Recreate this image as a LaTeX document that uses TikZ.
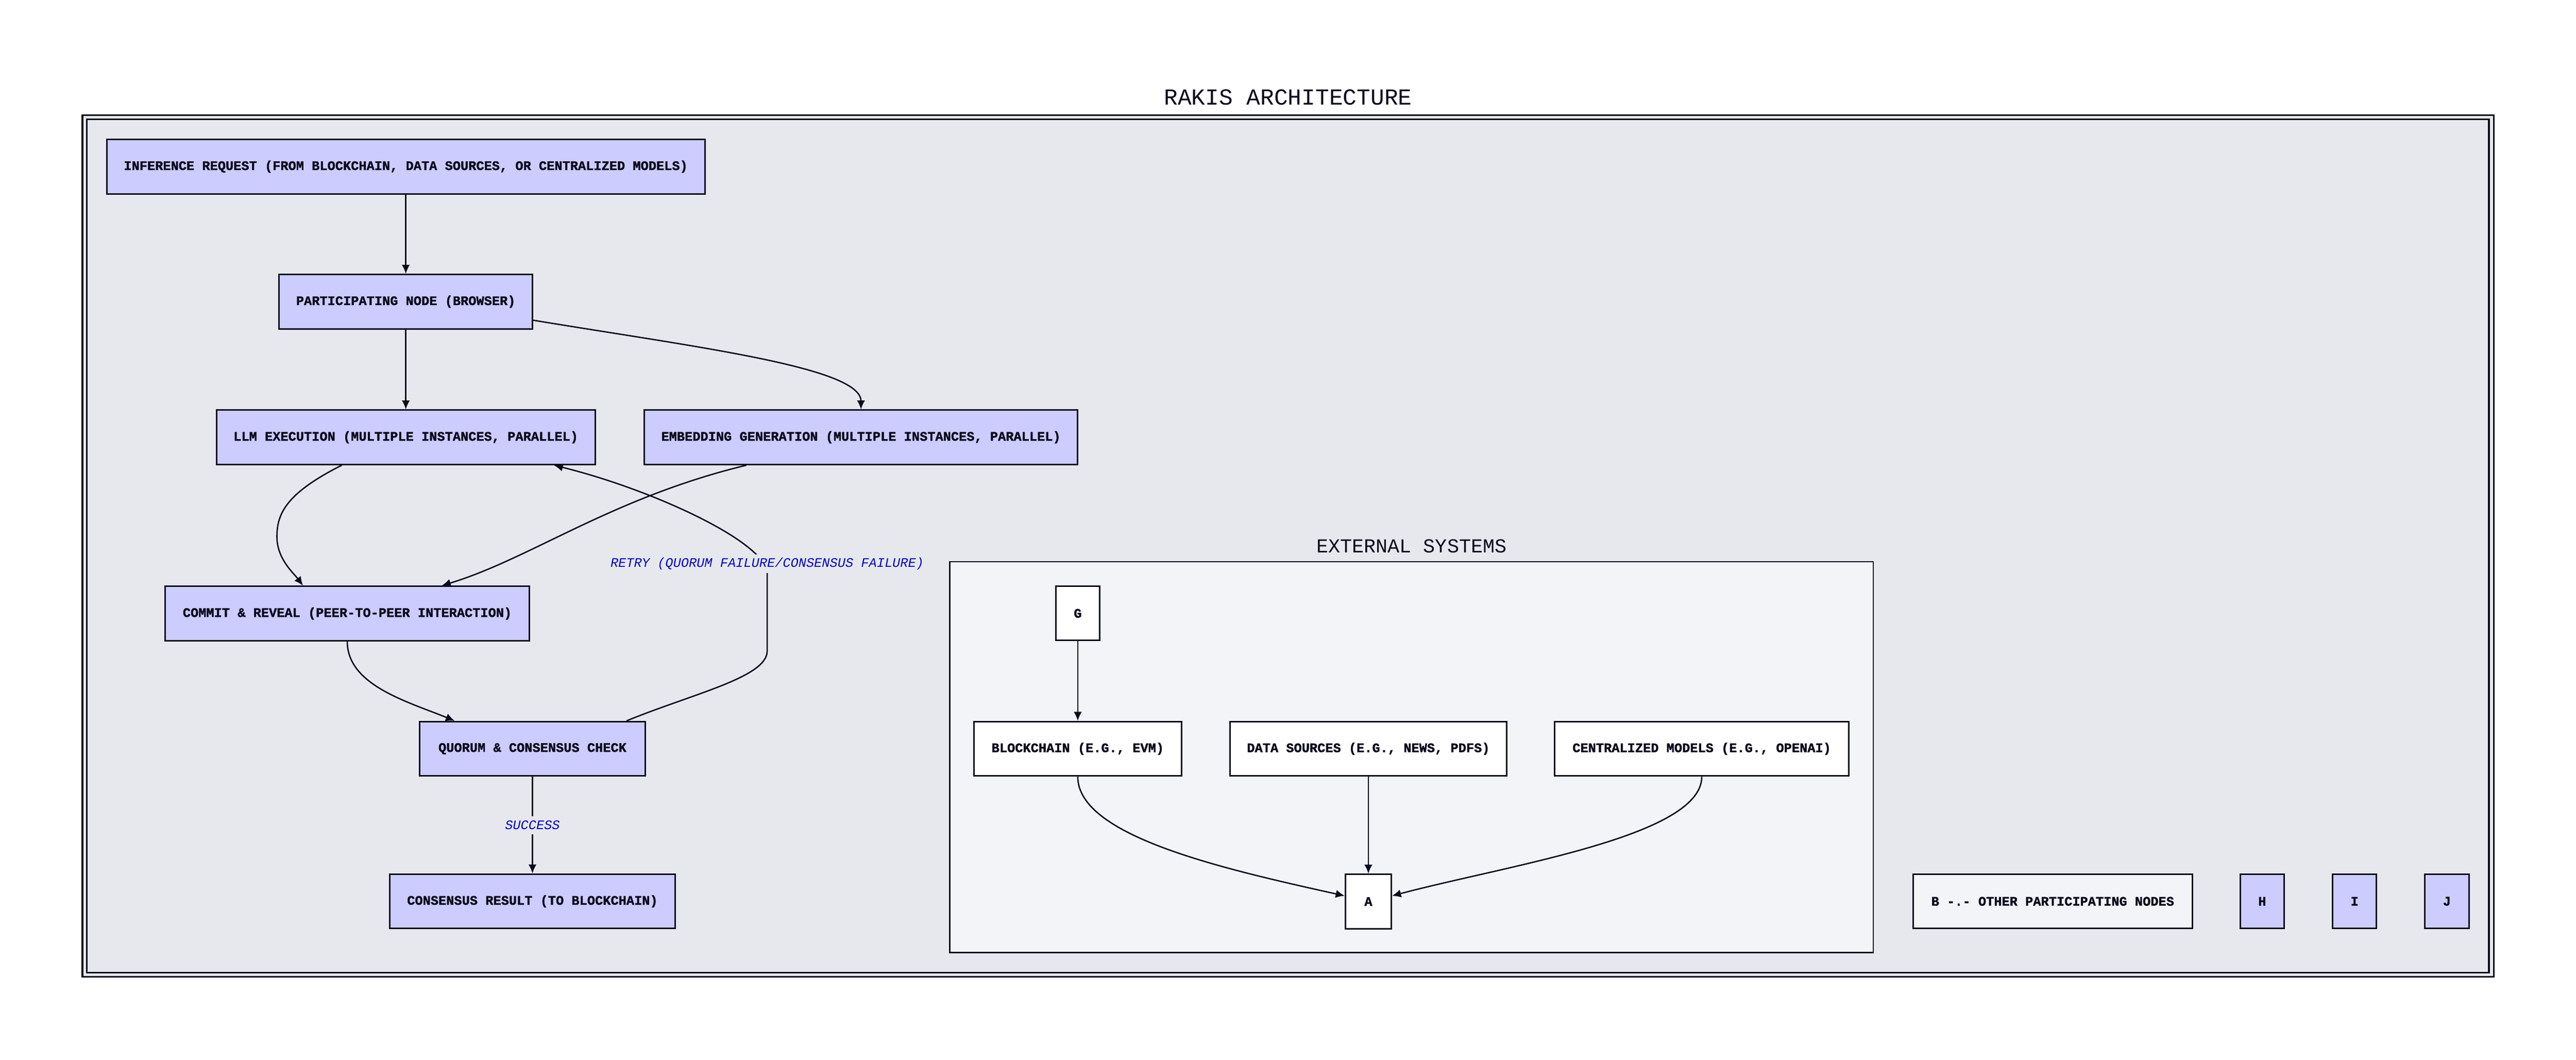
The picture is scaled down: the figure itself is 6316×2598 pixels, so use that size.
\documentclass[tikz,border=0pt]{standalone}
\usepackage{fontspec}
\setmonofont[BoldFeatures={FakeBold=1.5}]{Liberation Mono}
\usetikzlibrary{arrows.meta}
\definecolor{nodefill}{HTML}{CCCCFF}
\definecolor{ink}{HTML}{0B0B1C}
\definecolor{clusterbg}{HTML}{E7E8EE}
\definecolor{extbg}{HTML}{F3F4F8}
\definecolor{lblue}{HTML}{0000C8}
\begin{document}
\begin{tikzpicture}[x=0.01cm,y=-0.01cm,
  box/.style={draw=ink, line width=1.1pt, fill=nodefill, minimum height=1.33cm, inner sep=0pt,
    font=\ttfamily\bfseries\fontsize{9.1}{11}\selectfont, text=ink},
  wbox/.style={box, fill=white},
  edge/.style={draw=ink, line width=0.95pt, -{Latex[length=0.22cm,width=0.2cm]}},
  elabel/.style={font=\ttfamily\itshape\fontsize{9.1}{11}\selectfont, text=lblue, fill=clusterbg,
    inner xsep=3pt, inner ysep=0pt, minimum height=0.45cm},
  frame/.style={draw=ink, line width=1.15pt}
]
\useasboundingbox (0,0) rectangle (6316,2598);

% outer cluster
\draw[frame, fill=clusterbg] (202,282) rectangle (6114,2394.6);
\draw[frame] (212.5,292) rectangle (6102.5,2384.7);
\node[font=\ttfamily\fontsize{16}{18}\selectfont, text=ink] (title) at (3158,238) {RAKIS ARCHITECTURE};

% external systems cluster
\draw[draw=ink, line width=0.9pt, fill=extbg] (2329,1377) rectangle (4593,2335);
\node[font=\ttfamily\fontsize{13.8}{16}\selectfont, text=ink] (exttitle) at (3461,1338.5) {EXTERNAL SYSTEMS};

% nodes
\node[box, minimum width=14.66cm] (inf) at (995,408.5) {INFERENCE REQUEST (FROM BLOCKCHAIN, DATA SOURCES, OR CENTRALIZED MODELS)};
\node[box, minimum width=6.21cm] (part) at (995,739.5) {PARTICIPATING NODE (BROWSER)};
\node[box, minimum width=9.28cm] (llm) at (995,1072) {LLM EXECUTION (MULTIPLE INSTANCES, PARALLEL)};
\node[box, minimum width=10.62cm] (emb) at (2111,1072) {EMBEDDING GENERATION (MULTIPLE INSTANCES, PARALLEL)};
\node[box, minimum width=8.93cm] (commit) at (851.5,1504) {COMMIT \& REVEAL (PEER-TO-PEER INTERACTION)};
\node[box, minimum width=5.52cm] (quorum) at (1305.5,1835.5) {QUORUM \& CONSENSUS CHECK};
\node[box, minimum width=6.99cm] (result) at (1305.5,2209.5) {CONSENSUS RESULT (TO BLOCKCHAIN)};

\node[wbox, minimum width=1.08cm] (G) at (2642.5,1503.5) {G};
\node[wbox, minimum width=5.08cm] (bc) at (2642.5,1835.5) {BLOCKCHAIN (E.G., EVM)};
\node[wbox, minimum width=6.79cm] (data) at (3355,1835.5) {DATA SOURCES (E.G., NEWS, PDFS)};
\node[wbox, minimum width=7.21cm] (central) at (4172.5,1835.5) {CENTRALIZED MODELS (E.G., OPENAI)};
\node[wbox, minimum width=1.12cm] (A) at (3355,2210) {A};

\node[box, fill=extbg, minimum width=6.84cm] (B) at (5033,2209.5) {B -.- OTHER PARTICIPATING NODES};
\node[box, minimum width=1.07cm] (H) at (5546.5,2209.5) {H};
\node[box, minimum width=1.08cm] (I) at (5773,2209.5) {I};
\node[box, minimum width=1.09cm] (J) at (5999.5,2209.5) {J};

% edges
\draw[edge] (inf.south) -- (part.north);
\draw[edge] (part.south) -- (llm.north);
\draw[edge] ([yshift=-0.455cm]part.east) .. controls (1700,850) and (2111,900) .. (emb.north);
\draw[edge] ([xshift=-1.57cm]llm.south) .. controls (700,1210) and (679,1260) .. (679,1316)
  .. controls (679,1370) and (720,1405) .. ([xshift=-1.085cm]commit.north);
\draw[edge] ([xshift=-2.81cm]emb.south) .. controls (1500,1220) and (1300,1370) .. ([xshift=2.315cm]commit.north);
\draw[edge] (commit.south) .. controls (851.5,1680) and (1000,1720) .. ([xshift=-1.905cm]quorum.north);
\draw[edge] ([xshift=2.305cm]quorum.north) .. controls (1700,1700) and (1881,1660) .. (1881,1596)
  -- (1881,1406) .. controls (1881,1330) and (1600,1200) .. ([xshift=3.63cm]llm.south);
\draw[edge] (quorum.south) -- (result.north);

\draw[edge] (G.south) -- (bc.north);
\draw[edge] (bc.south) .. controls (2642.5,2050) and (3000,2130) .. ([yshift=0.14cm]A.west);
\draw[edge] (data.south) -- (A.north);
\draw[edge] (central.south) .. controls (4172.5,2050) and (3700,2120) .. ([yshift=0.14cm]A.east);

% edge labels
\node[elabel] (lsucc) at (1305.5,2023) {SUCCESS};
\node[elabel] (lretry) at (1881,1382) {RETRY (QUORUM FAILURE/CONSENSUS FAILURE)};
\end{tikzpicture}
\end{document}
